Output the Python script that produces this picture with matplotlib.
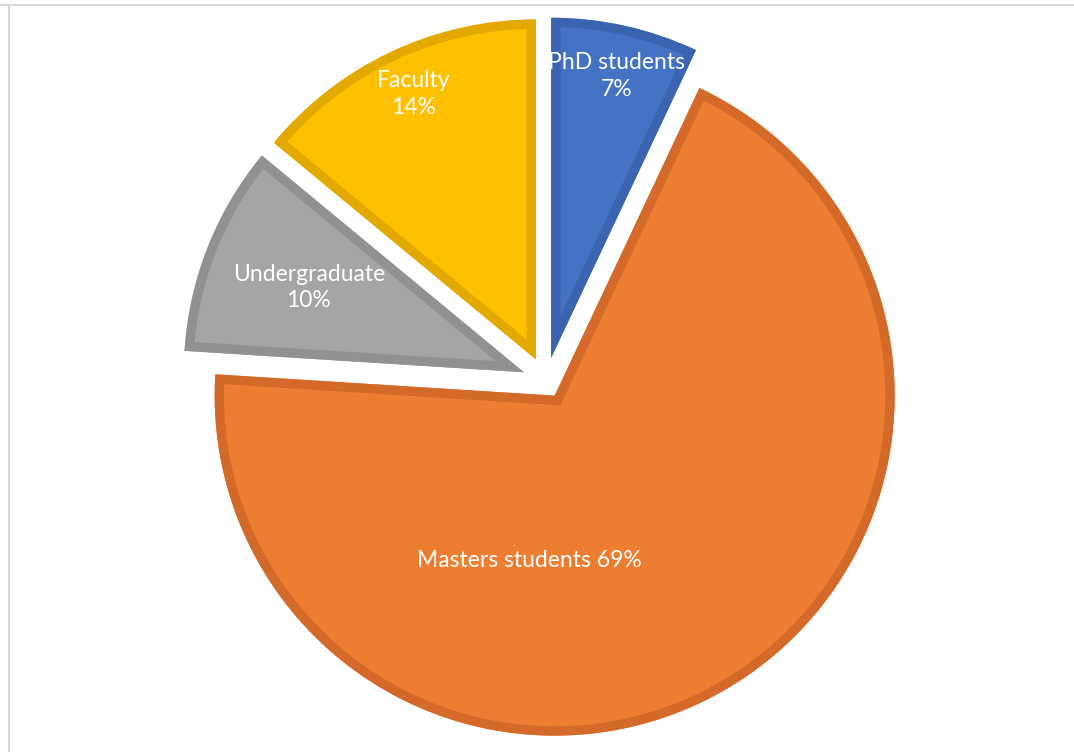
import matplotlib.pyplot as plt
from matplotlib.patches import Wedge
import numpy as np

# --- data ---
groups = ["PhD students", "Masters students", "Undergraduate", "Faculty"]
shares = [7, 69, 10, 14]
label_text = ["PhD students\n7%", "Masters students 69%", "Undergraduate\n10%", "Faculty\n14%"]

fills = ["#4472C4", "#ED7D31", "#A5A5A5", "#FFC000"]
edges = ["#3B64B0", "#D46A2A", "#919191", "#E2AA00"]
explode = [0.07, 0.05, 0.07, 0.07]

# label placement: (radius from wedge tip, angle in deg) -- Excel-like spots
label_pos = [(0.85, 77), (0.49, -98.6), (0.68, 158.5), (0.86, 114.8)]

fig = plt.figure(figsize=(10.74, 7.52), dpi=100)
ax = fig.add_axes([0, 0, 1, 1])

W, H = 1074, 752
cx, cy, rad = 546, 381, 340  # pie centre / radius in pixels

wedges, _ = ax.pie(shares, startangle=90, counterclock=False, explode=explode,
                   colors=fills, radius=1.0, frame=True,
                   wedgeprops=dict(linewidth=0))
ax.set_xlim(-cx / rad, (W - cx) / rad)
ax.set_ylim((cy - H) / rad, cy / rad)
ax.set_aspect("auto")
ax.axis("off")

# darker inner border: draw a border copy clipped to the slice itself
for w, ec in zip(wedges, edges):
    border = Wedge(w.center, w.r, w.theta1, w.theta2, facecolor="none",
                   edgecolor=ec, linewidth=13.5, joinstyle="miter", zorder=w.get_zorder() + 0.1)
    ax.add_patch(border)
    border.set_clip_path(w)

for w, txt, (r, ang) in zip(wedges, label_text, label_pos):
    x0, y0 = w.center
    a = np.deg2rad(ang)
    ax.text(x0 + r * np.cos(a), y0 + r * np.sin(a), txt, color="white",
            ha="center", va="center", fontsize=16.5, family="Lato",
            linespacing=1.35, zorder=5)

# thin grey frame lines (top and left) like the source screenshot
fig.add_artist(plt.Line2D([0, 1], [1 - 5 / H, 1 - 5 / H], color="#d9d9d9", lw=1.5,
                          transform=fig.transFigure))
fig.add_artist(plt.Line2D([9 / W, 9 / W], [0, 1 - 5 / H], color="#d9d9d9", lw=1.5,
                          transform=fig.transFigure))

fig.savefig("out.png", dpi=100, facecolor="white")
